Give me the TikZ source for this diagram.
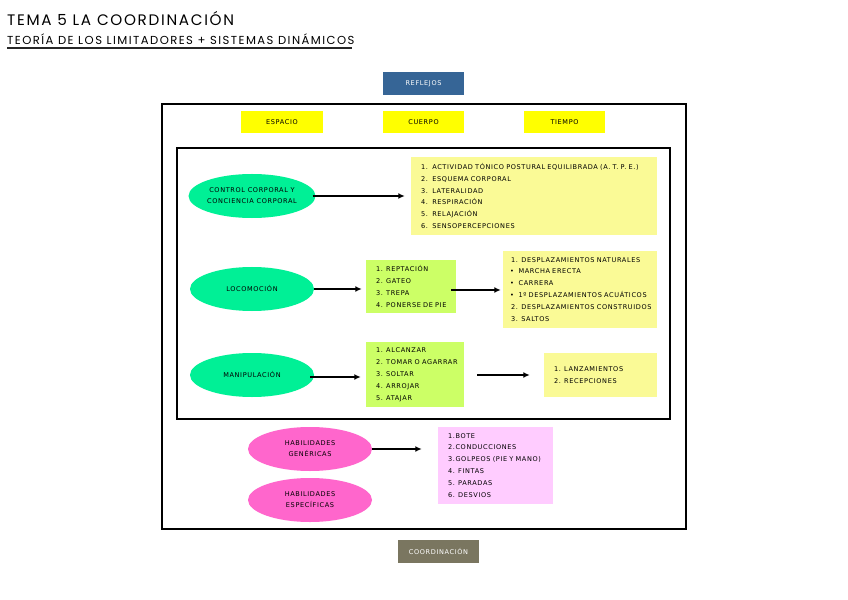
\documentclass[tikz,border=0pt]{standalone}
\usepackage{fontspec}
\setmainfont{DejaVu Sans}[LetterSpace=9.5]
\newfontfamily\titlefont{Poppins}[LetterSpace=11.0]
\newfontfamily\subtitlefont{Poppins}[LetterSpace=12.5]
\usetikzlibrary{shapes.geometric,arrows.meta}
\definecolor{reflejosblue}{RGB}{54,101,150}
\definecolor{coordgray}{RGB}{122,118,96}
\definecolor{tagyellow}{RGB}{255,255,0}
\definecolor{listyellow}{RGB}{250,250,150}
\definecolor{listgreen}{RGB}{204,255,102}
\definecolor{blobgreen}{RGB}{0,240,150}
\definecolor{blobpink}{RGB}{255,102,204}
\definecolor{listpink}{RGB}{255,204,255}
\begin{document}
\begin{tikzpicture}[x=0.03cm,y=-0.03cm,
    txt/.style={font=\fontsize{5.6}{10.2}\selectfont},
    tagbox/.style={txt,minimum width=2.45cm,minimum height=0.68cm,inner sep=0pt},
    blob/.style={ellipse,font=\fontsize{5.6}{9.4}\selectfont,minimum width=3.72cm,minimum height=1.32cm,inner sep=0pt,align=center},
    listbox/.style={txt,align=left,inner xsep=0.3cm,inner ysep=0pt},
    flow/.style={-{Latex[length=5.5pt,width=5pt]},line width=1.1pt}]
  % Page
  \useasboundingbox[fill=white] (0,0) rectangle (848,600);

  % Titles
  \node[anchor=base west,inner sep=0pt,font=\titlefont\fontsize{13}{13}\selectfont] (title) at (7,26) {TEMA 5 LA COORDINACIÓN};
  \node[anchor=base west,inner sep=0pt,font=\subtitlefont\fontsize{9.9}{10}\selectfont] (subtitle) at (7,45) {TEORÍA DE LOS LIMITADORES + SISTEMAS DINÁMICOS};
  \draw[line width=1.5pt,black!85] (7,48) -- (352,48);

  % Top and bottom labels
  \node[tagbox,fill=reflejosblue,text=white] (reflejos) at (423.5,83.5) {REFLEJOS};
  \node[tagbox,fill=coordgray,text=white] (coordinacion) at (438.5,551.5) {COORDINACIÓN};

  % Frames
  \draw[line width=1.5pt] (162,104) rectangle (686,529);
  \draw[line width=1.1pt] (177,148) rectangle (670,419);

  % Espacio, cuerpo, tiempo
  \node[tagbox,fill=tagyellow] (espacio) at (282,122) {ESPACIO};
  \node[tagbox,fill=tagyellow] (cuerpo) at (423.5,122) {CUERPO};
  \node[tagbox,fill=tagyellow] (tiempo) at (564.5,122) {TIEMPO};

  % Control corporal
  \node[blob,fill=blobgreen] (control) at (252,196) {CONTROL CORPORAL Y\\CONCIENCIA CORPORAL};
  \node[listbox,fill=listyellow,text width=6.78cm,minimum height=2.34cm] (controllist) at (534,196)
    {\mbox{1.\ \ ACTIVIDAD TÓNICO POSTURAL EQUILIBRADA (A. T. P. E.)}\\
     2.\ \ ESQUEMA CORPORAL\\
     3.\ \ LATERALIDAD\\
     4.\ \ RESPIRACIÓN\\
     5.\ \ RELAJACIÓN\\
     6.\ \ SENSOPERCEPCIONES};

  % Locomocion
  \node[blob,fill=blobgreen] (locomocion) at (252,289) {LOCOMOCIÓN};
  \node[listbox,fill=listgreen,text width=2.1cm,minimum height=1.59cm] (locolist) at (411,286.5)
    {1. REPTACIÓN\\
     2. GATEO\\
     3. TREPA\\
     \mbox{4. PONERSE DE PIE}};
  \node[listbox,fill=listyellow,inner xsep=0.21cm,text width=4.2cm,minimum height=2.31cm] (desplist) at (580,289.5)
    {\mbox{\hspace{1pt}1. DESPLAZAMIENTOS NATURALES}\\
     \textbullet\hspace{4pt}MARCHA ERECTA\\
     \textbullet\hspace{4pt}CARRERA\\
     \mbox{\textbullet\hspace{4pt}1º DESPLAZAMIENTOS ACUÁTICOS}\\
     \mbox{\hspace{1pt}2. DESPLAZAMIENTOS CONSTRUIDOS}\\
     \hspace{1pt}3. SALTOS};

  % Manipulacion
  \node[blob,fill=blobgreen] (manipulacion) at (252,375) {MANIPULACIÓN};
  \node[listbox,fill=listgreen,text width=2.34cm,minimum height=1.95cm] (maniplist) at (415,374.5)
    {1. ALCANZAR\\
     \mbox{2. TOMAR O AGARRAR}\\
     3. SOLTAR\\
     4. ARROJAR\\
     5. ATAJAR};
  \node[listbox,fill=listyellow,text width=2.79cm,minimum height=1.32cm] (lanzlist) at (600.5,375)
    {1. LANZAMIENTOS\\
     2. RECEPCIONES};

  % Habilidades
  \node[blob,fill=blobpink] (genericas) at (310,449) {HABILIDADES\\GENÉRICAS};
  \node[blob,fill=blobpink] (especificas) at (310,500) {HABILIDADES\\ESPECÍFICAS};
  \node[listbox,fill=listpink,text width=2.85cm,minimum height=2.31cm] (habillist) at (495.5,465.5)
    {1.BOTE\\
     2.CONDUCCIONES\\
     \mbox{3.GOLPEOS (PIE Y MANO)}\\
     4. FINTAS\\
     5. PARADAS\\
     6. DESVIOS};

  % Arrows
  \draw[flow,shorten <=-0.09cm,shorten >=0.18cm] (control.east) -- (control.east -| controllist.west);
  \draw[flow,shorten >=0.12cm] (locomocion.east) -- (locomocion.east -| locolist.west);
  \draw[flow,shorten <=-0.15cm,shorten >=0.06cm] ([yshift=-0.105cm]locolist.east) -- ([yshift=-0.105cm]locolist.east -| desplist.west);
  \draw[flow,shorten <=-0.12cm,shorten >=0.15cm] ([yshift=-0.06cm]manipulacion.east) -- ([yshift=-0.06cm]manipulacion.east -| maniplist.west);
  \draw[flow,shorten <=0.39cm,shorten >=0.42cm] (maniplist.east |- lanzlist.west) -- (lanzlist.west);
  \draw[flow,shorten >=0.48cm] (genericas.east) -- (genericas.east -| habillist.west);
\end{tikzpicture}
\end{document}
